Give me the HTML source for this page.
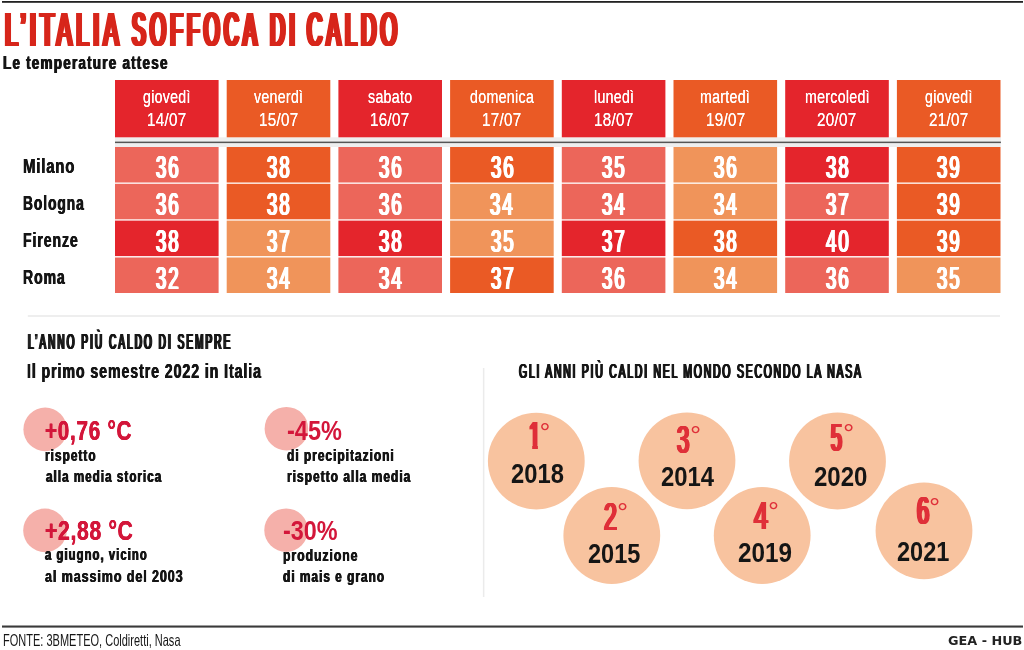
<!DOCTYPE html>
<html lang="it"><head><meta charset="utf-8"><title>L’Italia soffoca di caldo</title>
<style>
html,body{margin:0;padding:0;background:#fff;}
body{position:relative;width:1024px;height:650px;overflow:hidden;font-family:"Liberation Sans",sans-serif;}
svg{position:absolute;left:0;top:0;display:block;}
.t{position:absolute;white-space:pre;line-height:1;font-weight:bold;transform-origin:0 0;font-family:"Liberation Sans",sans-serif;}
</style></head><body>
<svg width="1024" height="650" viewBox="0 0 1024 650">
<rect width="1024" height="650" fill="#ffffff"/>
<rect x="2.00" y="1.00" width="1021.00" height="1.80" fill="#222"/>
<rect x="2.00" y="625.50" width="1021.00" height="2.10" fill="#3a3a3a"/>
<rect x="115.00" y="137.30" width="885.90" height="9.70" fill="#eeeeee"/>
<rect x="115.00" y="141.60" width="885.90" height="1.50" fill="#555"/>
<rect x="115.00" y="80.00" width="103.60" height="57.30" fill="#e4252c"/>
<rect x="115.00" y="147.00" width="103.60" height="35.50" fill="#ec665a"/>
<rect x="115.00" y="183.80" width="103.60" height="35.50" fill="#ec665a"/>
<rect x="115.00" y="220.60" width="103.60" height="35.50" fill="#e4252c"/>
<rect x="115.00" y="257.50" width="103.60" height="35.50" fill="#ec665a"/>
<rect x="226.70" y="80.00" width="103.60" height="57.30" fill="#ea5a25"/>
<rect x="226.70" y="147.00" width="103.60" height="35.50" fill="#ea5a25"/>
<rect x="226.70" y="183.80" width="103.60" height="35.50" fill="#ea5a25"/>
<rect x="226.70" y="220.60" width="103.60" height="35.50" fill="#f0945a"/>
<rect x="226.70" y="257.50" width="103.60" height="35.50" fill="#f0945a"/>
<rect x="338.40" y="80.00" width="103.60" height="57.30" fill="#e4252c"/>
<rect x="338.40" y="147.00" width="103.60" height="35.50" fill="#ec665a"/>
<rect x="338.40" y="183.80" width="103.60" height="35.50" fill="#ec665a"/>
<rect x="338.40" y="220.60" width="103.60" height="35.50" fill="#e4252c"/>
<rect x="338.40" y="257.50" width="103.60" height="35.50" fill="#ec665a"/>
<rect x="450.10" y="80.00" width="103.60" height="57.30" fill="#ea5a25"/>
<rect x="450.10" y="147.00" width="103.60" height="35.50" fill="#ea5a25"/>
<rect x="450.10" y="183.80" width="103.60" height="35.50" fill="#f0945a"/>
<rect x="450.10" y="220.60" width="103.60" height="35.50" fill="#f0945a"/>
<rect x="450.10" y="257.50" width="103.60" height="35.50" fill="#ea5a25"/>
<rect x="561.80" y="80.00" width="103.60" height="57.30" fill="#e4252c"/>
<rect x="561.80" y="147.00" width="103.60" height="35.50" fill="#ec665a"/>
<rect x="561.80" y="183.80" width="103.60" height="35.50" fill="#ec665a"/>
<rect x="561.80" y="220.60" width="103.60" height="35.50" fill="#e4252c"/>
<rect x="561.80" y="257.50" width="103.60" height="35.50" fill="#ec665a"/>
<rect x="673.50" y="80.00" width="103.60" height="57.30" fill="#ea5a25"/>
<rect x="673.50" y="147.00" width="103.60" height="35.50" fill="#f0945a"/>
<rect x="673.50" y="183.80" width="103.60" height="35.50" fill="#f0945a"/>
<rect x="673.50" y="220.60" width="103.60" height="35.50" fill="#ea5a25"/>
<rect x="673.50" y="257.50" width="103.60" height="35.50" fill="#f0945a"/>
<rect x="785.20" y="80.00" width="103.60" height="57.30" fill="#e4252c"/>
<rect x="785.20" y="147.00" width="103.60" height="35.50" fill="#e4252c"/>
<rect x="785.20" y="183.80" width="103.60" height="35.50" fill="#ec665a"/>
<rect x="785.20" y="220.60" width="103.60" height="35.50" fill="#e4252c"/>
<rect x="785.20" y="257.50" width="103.60" height="35.50" fill="#ec665a"/>
<rect x="896.90" y="80.00" width="103.60" height="57.30" fill="#ea5a25"/>
<rect x="896.90" y="147.00" width="103.60" height="35.50" fill="#ea5a25"/>
<rect x="896.90" y="183.80" width="103.60" height="35.50" fill="#ea5a25"/>
<rect x="896.90" y="220.60" width="103.60" height="35.50" fill="#ea5a25"/>
<rect x="896.90" y="257.50" width="103.60" height="35.50" fill="#f0945a"/>
<rect x="27.80" y="315.00" width="972.20" height="2.00" fill="#eeeeee"/>
<rect x="482.90" y="368.00" width="1.50" height="229.00" fill="#ebebeb"/>
<circle cx="45.20" cy="429.40" r="21.80" fill="#f5b0aa"/>
<circle cx="45.00" cy="530.40" r="21.80" fill="#f5b0aa"/>
<circle cx="286.40" cy="428.70" r="21.80" fill="#f5b0aa"/>
<circle cx="286.10" cy="530.20" r="21.80" fill="#f5b0aa"/>
<circle cx="536.30" cy="461.10" r="48.40" fill="#f8c39f"/>
<circle cx="611.80" cy="535.50" r="48.40" fill="#f8c39f"/>
<circle cx="687.00" cy="460.80" r="48.40" fill="#f8c39f"/>
<circle cx="762.20" cy="535.50" r="48.40" fill="#f8c39f"/>
<circle cx="837.50" cy="461.00" r="48.40" fill="#f8c39f"/>
<circle cx="924.00" cy="530.80" r="48.40" fill="#f8c39f"/>
</svg>
<span class="t" style="left:5.43px;top:5.00px;font-size:48.40px;transform:scaleX(0.4748);color:#d7261b;font-weight:normal;letter-spacing:8.61px;text-shadow:1.35px 0 0 #d7261b,-1.35px 0 0 #d7261b,2.70px 0 0 #d7261b,-2.70px 0 0 #d7261b,4.05px 0 0 #d7261b,-4.05px 0 0 #d7261b;">L’ITALIA</span>
<span class="t" style="left:132.04px;top:5.00px;font-size:48.40px;transform:scaleX(0.4224);color:#d7261b;font-weight:normal;letter-spacing:10.23px;text-shadow:1.21px 0 0 #d7261b,-1.21px 0 0 #d7261b,2.41px 0 0 #d7261b,-2.41px 0 0 #d7261b,3.62px 0 0 #d7261b,-3.62px 0 0 #d7261b,4.83px 0 0 #d7261b,-4.83px 0 0 #d7261b;">SOFFOCA</span>
<span class="t" style="left:269.52px;top:5.00px;font-size:48.40px;transform:scaleX(0.4287);color:#d7261b;font-weight:normal;letter-spacing:10.01px;text-shadow:1.18px 0 0 #d7261b,-1.18px 0 0 #d7261b,2.36px 0 0 #d7261b,-2.36px 0 0 #d7261b,3.54px 0 0 #d7261b,-3.54px 0 0 #d7261b,4.73px 0 0 #d7261b,-4.73px 0 0 #d7261b;">DI</span>
<span class="t" style="left:306.87px;top:5.00px;font-size:48.40px;transform:scaleX(0.4375);color:#d7261b;font-weight:normal;letter-spacing:9.72px;text-shadow:1.15px 0 0 #d7261b,-1.15px 0 0 #d7261b,2.29px 0 0 #d7261b,-2.29px 0 0 #d7261b,3.44px 0 0 #d7261b,-3.44px 0 0 #d7261b,4.58px 0 0 #d7261b,-4.58px 0 0 #d7261b;">CALDO</span>
<span class="t" style="left:2.70px;top:54.00px;font-size:18.90px;transform:scaleX(0.7153);color:#151515;letter-spacing:1.68px;text-shadow:0.67px 0 0 #151515,-0.67px 0 0 #151515;">Le temperature attese</span>
<span class="t" style="left:143.29px;top:88.00px;font-size:18.17px;transform:scaleX(0.7779);color:#fff;font-weight:normal;letter-spacing:0.39px;text-shadow:0.06px 0 0 #fff;">giovedì</span>
<span class="t" style="left:147.04px;top:111.00px;font-size:18.17px;transform:scaleX(0.8352);color:#fff;font-weight:normal;letter-spacing:0.36px;text-shadow:0.06px 0 0 #fff;">14/07</span>
<span class="t" style="left:155.55px;top:152.00px;font-size:31.10px;transform:scaleX(0.5946);color:#fff;font-weight:normal;letter-spacing:3.36px;text-shadow:0.74px 0 0 #fff,-0.74px 0 0 #fff,1.48px 0 0 #fff,-1.48px 0 0 #fff;">36</span>
<span class="t" style="left:155.55px;top:189.00px;font-size:31.10px;transform:scaleX(0.5946);color:#fff;font-weight:normal;letter-spacing:3.36px;text-shadow:0.74px 0 0 #fff,-0.74px 0 0 #fff,1.48px 0 0 #fff,-1.48px 0 0 #fff;">36</span>
<span class="t" style="left:155.55px;top:226.00px;font-size:31.10px;transform:scaleX(0.5946);color:#fff;font-weight:normal;letter-spacing:3.36px;text-shadow:0.74px 0 0 #fff,-0.74px 0 0 #fff,1.48px 0 0 #fff,-1.48px 0 0 #fff;">38</span>
<span class="t" style="left:155.65px;top:263.00px;font-size:31.10px;transform:scaleX(0.5934);color:#fff;font-weight:normal;letter-spacing:3.37px;text-shadow:0.74px 0 0 #fff,-0.74px 0 0 #fff,1.48px 0 0 #fff,-1.48px 0 0 #fff;">32</span>
<span class="t" style="left:254.41px;top:88.00px;font-size:18.17px;transform:scaleX(0.7795);color:#fff;font-weight:normal;letter-spacing:0.38px;text-shadow:0.06px 0 0 #fff;">venerdì</span>
<span class="t" style="left:258.74px;top:111.00px;font-size:18.17px;transform:scaleX(0.8352);color:#fff;font-weight:normal;letter-spacing:0.36px;text-shadow:0.06px 0 0 #fff;">15/07</span>
<span class="t" style="left:267.25px;top:152.00px;font-size:31.10px;transform:scaleX(0.5946);color:#fff;font-weight:normal;letter-spacing:3.36px;text-shadow:0.74px 0 0 #fff,-0.74px 0 0 #fff,1.48px 0 0 #fff,-1.48px 0 0 #fff;">38</span>
<span class="t" style="left:267.25px;top:189.00px;font-size:31.10px;transform:scaleX(0.5946);color:#fff;font-weight:normal;letter-spacing:3.36px;text-shadow:0.74px 0 0 #fff,-0.74px 0 0 #fff,1.48px 0 0 #fff,-1.48px 0 0 #fff;">38</span>
<span class="t" style="left:267.35px;top:226.00px;font-size:31.10px;transform:scaleX(0.5934);color:#fff;font-weight:normal;letter-spacing:3.37px;text-shadow:0.74px 0 0 #fff,-0.74px 0 0 #fff,1.48px 0 0 #fff,-1.48px 0 0 #fff;">37</span>
<span class="t" style="left:267.06px;top:263.00px;font-size:31.10px;transform:scaleX(0.5971);color:#fff;font-weight:normal;letter-spacing:3.34px;text-shadow:0.73px 0 0 #fff,-0.73px 0 0 #fff,1.47px 0 0 #fff,-1.47px 0 0 #fff;">34</span>
<span class="t" style="left:368.22px;top:88.00px;font-size:18.17px;transform:scaleX(0.7811);color:#fff;font-weight:normal;letter-spacing:0.38px;text-shadow:0.06px 0 0 #fff;">sabato</span>
<span class="t" style="left:370.44px;top:111.00px;font-size:18.17px;transform:scaleX(0.8352);color:#fff;font-weight:normal;letter-spacing:0.36px;text-shadow:0.06px 0 0 #fff;">16/07</span>
<span class="t" style="left:378.95px;top:152.00px;font-size:31.10px;transform:scaleX(0.5946);color:#fff;font-weight:normal;letter-spacing:3.36px;text-shadow:0.74px 0 0 #fff,-0.74px 0 0 #fff,1.48px 0 0 #fff,-1.48px 0 0 #fff;">36</span>
<span class="t" style="left:378.95px;top:189.00px;font-size:31.10px;transform:scaleX(0.5946);color:#fff;font-weight:normal;letter-spacing:3.36px;text-shadow:0.74px 0 0 #fff,-0.74px 0 0 #fff,1.48px 0 0 #fff,-1.48px 0 0 #fff;">36</span>
<span class="t" style="left:378.95px;top:226.00px;font-size:31.10px;transform:scaleX(0.5946);color:#fff;font-weight:normal;letter-spacing:3.36px;text-shadow:0.74px 0 0 #fff,-0.74px 0 0 #fff,1.48px 0 0 #fff,-1.48px 0 0 #fff;">38</span>
<span class="t" style="left:378.76px;top:263.00px;font-size:31.10px;transform:scaleX(0.5971);color:#fff;font-weight:normal;letter-spacing:3.34px;text-shadow:0.73px 0 0 #fff,-0.73px 0 0 #fff,1.47px 0 0 #fff,-1.47px 0 0 #fff;">34</span>
<span class="t" style="left:469.68px;top:88.00px;font-size:18.17px;transform:scaleX(0.7842);color:#fff;font-weight:normal;letter-spacing:0.38px;text-shadow:0.06px 0 0 #fff;">domenica</span>
<span class="t" style="left:482.14px;top:111.00px;font-size:18.17px;transform:scaleX(0.8352);color:#fff;font-weight:normal;letter-spacing:0.36px;text-shadow:0.06px 0 0 #fff;">17/07</span>
<span class="t" style="left:490.65px;top:152.00px;font-size:31.10px;transform:scaleX(0.5946);color:#fff;font-weight:normal;letter-spacing:3.36px;text-shadow:0.74px 0 0 #fff,-0.74px 0 0 #fff,1.48px 0 0 #fff,-1.48px 0 0 #fff;">36</span>
<span class="t" style="left:490.46px;top:189.00px;font-size:31.10px;transform:scaleX(0.5971);color:#fff;font-weight:normal;letter-spacing:3.34px;text-shadow:0.73px 0 0 #fff,-0.73px 0 0 #fff,1.47px 0 0 #fff,-1.47px 0 0 #fff;">34</span>
<span class="t" style="left:490.65px;top:226.00px;font-size:31.10px;transform:scaleX(0.5946);color:#fff;font-weight:normal;letter-spacing:3.36px;text-shadow:0.74px 0 0 #fff,-0.74px 0 0 #fff,1.48px 0 0 #fff,-1.48px 0 0 #fff;">35</span>
<span class="t" style="left:490.75px;top:263.00px;font-size:31.10px;transform:scaleX(0.5934);color:#fff;font-weight:normal;letter-spacing:3.37px;text-shadow:0.74px 0 0 #fff,-0.74px 0 0 #fff,1.48px 0 0 #fff,-1.48px 0 0 #fff;">37</span>
<span class="t" style="left:593.62px;top:88.00px;font-size:18.17px;transform:scaleX(0.7768);color:#fff;font-weight:normal;letter-spacing:0.39px;text-shadow:0.06px 0 0 #fff;">lunedì</span>
<span class="t" style="left:593.84px;top:111.00px;font-size:18.17px;transform:scaleX(0.8352);color:#fff;font-weight:normal;letter-spacing:0.36px;text-shadow:0.06px 0 0 #fff;">18/07</span>
<span class="t" style="left:602.35px;top:152.00px;font-size:31.10px;transform:scaleX(0.5946);color:#fff;font-weight:normal;letter-spacing:3.36px;text-shadow:0.74px 0 0 #fff,-0.74px 0 0 #fff,1.48px 0 0 #fff,-1.48px 0 0 #fff;">35</span>
<span class="t" style="left:602.16px;top:189.00px;font-size:31.10px;transform:scaleX(0.5971);color:#fff;font-weight:normal;letter-spacing:3.34px;text-shadow:0.73px 0 0 #fff,-0.73px 0 0 #fff,1.47px 0 0 #fff,-1.47px 0 0 #fff;">34</span>
<span class="t" style="left:602.45px;top:226.00px;font-size:31.10px;transform:scaleX(0.5934);color:#fff;font-weight:normal;letter-spacing:3.37px;text-shadow:0.74px 0 0 #fff,-0.74px 0 0 #fff,1.48px 0 0 #fff,-1.48px 0 0 #fff;">37</span>
<span class="t" style="left:602.35px;top:263.00px;font-size:31.10px;transform:scaleX(0.5946);color:#fff;font-weight:normal;letter-spacing:3.36px;text-shadow:0.74px 0 0 #fff,-0.74px 0 0 #fff,1.48px 0 0 #fff,-1.48px 0 0 #fff;">36</span>
<span class="t" style="left:700.38px;top:88.00px;font-size:18.17px;transform:scaleX(0.7795);color:#fff;font-weight:normal;letter-spacing:0.38px;text-shadow:0.06px 0 0 #fff;">martedì</span>
<span class="t" style="left:705.54px;top:111.00px;font-size:18.17px;transform:scaleX(0.8352);color:#fff;font-weight:normal;letter-spacing:0.36px;text-shadow:0.06px 0 0 #fff;">19/07</span>
<span class="t" style="left:714.05px;top:152.00px;font-size:31.10px;transform:scaleX(0.5946);color:#fff;font-weight:normal;letter-spacing:3.36px;text-shadow:0.74px 0 0 #fff,-0.74px 0 0 #fff,1.48px 0 0 #fff,-1.48px 0 0 #fff;">36</span>
<span class="t" style="left:713.86px;top:189.00px;font-size:31.10px;transform:scaleX(0.5971);color:#fff;font-weight:normal;letter-spacing:3.34px;text-shadow:0.73px 0 0 #fff,-0.73px 0 0 #fff,1.47px 0 0 #fff,-1.47px 0 0 #fff;">34</span>
<span class="t" style="left:714.05px;top:226.00px;font-size:31.10px;transform:scaleX(0.5946);color:#fff;font-weight:normal;letter-spacing:3.36px;text-shadow:0.74px 0 0 #fff,-0.74px 0 0 #fff,1.48px 0 0 #fff,-1.48px 0 0 #fff;">38</span>
<span class="t" style="left:713.86px;top:263.00px;font-size:31.10px;transform:scaleX(0.5971);color:#fff;font-weight:normal;letter-spacing:3.34px;text-shadow:0.73px 0 0 #fff,-0.73px 0 0 #fff,1.47px 0 0 #fff,-1.47px 0 0 #fff;">34</span>
<span class="t" style="left:804.68px;top:88.00px;font-size:18.17px;transform:scaleX(0.7801);color:#fff;font-weight:normal;letter-spacing:0.38px;text-shadow:0.06px 0 0 #fff;">mercoledì</span>
<span class="t" style="left:817.42px;top:111.00px;font-size:18.17px;transform:scaleX(0.8356);color:#fff;font-weight:normal;letter-spacing:0.36px;text-shadow:0.06px 0 0 #fff;">20/07</span>
<span class="t" style="left:825.75px;top:152.00px;font-size:31.10px;transform:scaleX(0.5946);color:#fff;font-weight:normal;letter-spacing:3.36px;text-shadow:0.74px 0 0 #fff,-0.74px 0 0 #fff,1.48px 0 0 #fff,-1.48px 0 0 #fff;">38</span>
<span class="t" style="left:825.85px;top:189.00px;font-size:31.10px;transform:scaleX(0.5934);color:#fff;font-weight:normal;letter-spacing:3.37px;text-shadow:0.74px 0 0 #fff,-0.74px 0 0 #fff,1.48px 0 0 #fff,-1.48px 0 0 #fff;">37</span>
<span class="t" style="left:825.77px;top:226.00px;font-size:31.10px;transform:scaleX(0.5983);color:#fff;font-weight:normal;letter-spacing:3.32px;text-shadow:0.73px 0 0 #fff,-0.73px 0 0 #fff,1.46px 0 0 #fff,-1.46px 0 0 #fff;">40</span>
<span class="t" style="left:825.75px;top:263.00px;font-size:31.10px;transform:scaleX(0.5946);color:#fff;font-weight:normal;letter-spacing:3.36px;text-shadow:0.74px 0 0 #fff,-0.74px 0 0 #fff,1.48px 0 0 #fff,-1.48px 0 0 #fff;">36</span>
<span class="t" style="left:925.19px;top:88.00px;font-size:18.17px;transform:scaleX(0.7779);color:#fff;font-weight:normal;letter-spacing:0.39px;text-shadow:0.06px 0 0 #fff;">giovedì</span>
<span class="t" style="left:929.12px;top:111.00px;font-size:18.17px;transform:scaleX(0.8356);color:#fff;font-weight:normal;letter-spacing:0.36px;text-shadow:0.06px 0 0 #fff;">21/07</span>
<span class="t" style="left:937.45px;top:152.00px;font-size:31.10px;transform:scaleX(0.5946);color:#fff;font-weight:normal;letter-spacing:3.36px;text-shadow:0.74px 0 0 #fff,-0.74px 0 0 #fff,1.48px 0 0 #fff,-1.48px 0 0 #fff;">39</span>
<span class="t" style="left:937.45px;top:189.00px;font-size:31.10px;transform:scaleX(0.5946);color:#fff;font-weight:normal;letter-spacing:3.36px;text-shadow:0.74px 0 0 #fff,-0.74px 0 0 #fff,1.48px 0 0 #fff,-1.48px 0 0 #fff;">39</span>
<span class="t" style="left:937.45px;top:226.00px;font-size:31.10px;transform:scaleX(0.5946);color:#fff;font-weight:normal;letter-spacing:3.36px;text-shadow:0.74px 0 0 #fff,-0.74px 0 0 #fff,1.48px 0 0 #fff,-1.48px 0 0 #fff;">39</span>
<span class="t" style="left:937.45px;top:263.00px;font-size:31.10px;transform:scaleX(0.5946);color:#fff;font-weight:normal;letter-spacing:3.36px;text-shadow:0.74px 0 0 #fff,-0.74px 0 0 #fff,1.48px 0 0 #fff,-1.48px 0 0 #fff;">35</span>
<span class="t" style="left:23.13px;top:156.00px;font-size:20.78px;transform:scaleX(0.7238);color:#151515;letter-spacing:1.07px;text-shadow:0.37px 0 0 #151515,-0.37px 0 0 #151515;">Milano</span>
<span class="t" style="left:23.31px;top:193.00px;font-size:20.78px;transform:scaleX(0.6623);color:#151515;letter-spacing:1.45px;text-shadow:0.55px 0 0 #151515,-0.55px 0 0 #151515;">Bologna</span>
<span class="t" style="left:23.27px;top:230.00px;font-size:20.78px;transform:scaleX(0.6787);color:#151515;letter-spacing:1.34px;text-shadow:0.50px 0 0 #151515,-0.50px 0 0 #151515;">Firenze</span>
<span class="t" style="left:23.27px;top:267.00px;font-size:20.78px;transform:scaleX(0.6759);color:#151515;letter-spacing:1.36px;text-shadow:0.50px 0 0 #151515,-0.50px 0 0 #151515;">Roma</span>
<span class="t" style="left:27.71px;top:330.00px;font-size:22.82px;transform:scaleX(0.4371);color:#151515;font-weight:normal;letter-spacing:4.76px;text-shadow:1.05px 0 0 #151515,-1.05px 0 0 #151515,2.11px 0 0 #151515,-2.11px 0 0 #151515;">L’ANNO PIÙ CALDO DI SEMPRE</span>
<span class="t" style="left:27.30px;top:361.00px;font-size:20.20px;transform:scaleX(0.7043);color:#151515;letter-spacing:1.27px;text-shadow:0.46px 0 0 #151515,-0.46px 0 0 #151515;">Il primo semestre 2022 in Italia</span>
<span class="t" style="left:519.09px;top:361.00px;font-size:20.71px;transform:scaleX(0.5071);color:#151515;font-weight:normal;letter-spacing:3.42px;text-shadow:0.74px 0 0 #151515,-0.74px 0 0 #151515,1.47px 0 0 #151515,-1.47px 0 0 #151515;">GLI ANNI PIÙ CALDI NEL MONDO SECONDO LA NASA</span>
<span class="t" style="left:45.41px;top:417.00px;font-size:27.25px;transform:scaleX(0.7587);color:#d3163a;letter-spacing:0.97px;text-shadow:0.33px 0 0 #d3163a,-0.33px 0 0 #d3163a;">+0,76 °C</span>
<span class="t" style="left:45.30px;top:448.00px;font-size:16.72px;transform:scaleX(0.7131);color:#151515;letter-spacing:1.38px;text-shadow:0.52px 0 0 #151515,-0.52px 0 0 #151515;">rispetto</span>
<span class="t" style="left:45.72px;top:469.00px;font-size:16.72px;transform:scaleX(0.6976);color:#151515;letter-spacing:1.47px;text-shadow:0.56px 0 0 #151515,-0.56px 0 0 #151515;">alla media storica</span>
<span class="t" style="left:45.15px;top:517.00px;font-size:27.25px;transform:scaleX(0.7766);color:#d3163a;letter-spacing:0.86px;text-shadow:0.28px 0 0 #d3163a,-0.28px 0 0 #d3163a;">+2,88 °C</span>
<span class="t" style="left:45.37px;top:547.00px;font-size:16.72px;transform:scaleX(0.6718);color:#151515;letter-spacing:1.62px;text-shadow:0.63px 0 0 #151515,-0.63px 0 0 #151515;">a giugno, vicino</span>
<span class="t" style="left:45.22px;top:569.00px;font-size:16.72px;transform:scaleX(0.7531);color:#151515;letter-spacing:1.18px;text-shadow:0.43px 0 0 #151515,-0.43px 0 0 #151515;">al massimo del 2003</span>
<span class="t" style="left:286.52px;top:418.00px;font-size:27.03px;transform:scaleX(0.8698);color:#d3163a;">-45%</span>
<span class="t" style="left:287.09px;top:448.00px;font-size:16.72px;transform:scaleX(0.7172);color:#151515;letter-spacing:1.36px;text-shadow:0.51px 0 0 #151515,-0.51px 0 0 #151515;">di precipitazioni</span>
<span class="t" style="left:286.78px;top:469.00px;font-size:16.72px;transform:scaleX(0.7229);color:#151515;letter-spacing:1.33px;text-shadow:0.50px 0 0 #151515,-0.50px 0 0 #151515;">rispetto alla media</span>
<span class="t" style="left:282.82px;top:518.00px;font-size:27.03px;transform:scaleX(0.8665);color:#d3163a;">-30%</span>
<span class="t" style="left:282.85px;top:548.00px;font-size:16.72px;transform:scaleX(0.7346);color:#151515;letter-spacing:1.27px;text-shadow:0.47px 0 0 #151515,-0.47px 0 0 #151515;">produzione</span>
<span class="t" style="left:283.20px;top:569.00px;font-size:16.72px;transform:scaleX(0.7119);color:#151515;letter-spacing:1.39px;text-shadow:0.53px 0 0 #151515,-0.53px 0 0 #151515;">di mais e grano</span>
<span class="t" style="left:528.69px;top:417.00px;font-size:38.52px;transform:scaleX(0.5307);color:#df3039;font-weight:normal;letter-spacing:6.25px;text-shadow:0.97px 0 0 #df3039,-0.97px 0 0 #df3039,1.93px 0 0 #df3039,-1.93px 0 0 #df3039,2.90px 0 0 #df3039,-2.90px 0 0 #df3039;clip-path:polygon(-50px -10px,100px -10px,100px 28.52px,16.78px 28.52px,16.78px 100px,5.99px 100px,5.99px 28.52px,-50px 28.52px);">1</span>
<span class="t" style="left:539.41px;top:419.00px;font-size:27.18px;transform:scaleX(1.0000);color:#df3039;font-weight:normal;">°</span>
<span class="t" style="left:510.61px;top:460.00px;font-size:27.47px;transform:scaleX(0.8652);color:#151515;">2018</span>
<span class="t" style="left:603.67px;top:498.00px;font-size:38.52px;transform:scaleX(0.6024);color:#df3039;font-weight:normal;letter-spacing:4.76px;text-shadow:0.73px 0 0 #df3039,-0.73px 0 0 #df3039,1.45px 0 0 #df3039,-1.45px 0 0 #df3039,2.18px 0 0 #df3039,-2.18px 0 0 #df3039;">2</span>
<span class="t" style="left:616.57px;top:499.00px;font-size:27.18px;transform:scaleX(1.0260);color:#df3039;font-weight:normal;">°</span>
<span class="t" style="left:588.41px;top:541.00px;font-size:27.03px;transform:scaleX(0.8724);color:#151515;">2015</span>
<span class="t" style="left:677.26px;top:420.00px;font-size:39.10px;transform:scaleX(0.5666);color:#df3039;font-weight:normal;letter-spacing:5.23px;text-shadow:0.80px 0 0 #df3039,-0.80px 0 0 #df3039,1.60px 0 0 #df3039,-1.60px 0 0 #df3039,2.40px 0 0 #df3039,-2.40px 0 0 #df3039;">3</span>
<span class="t" style="left:690.27px;top:422.00px;font-size:27.18px;transform:scaleX(1.0260);color:#df3039;font-weight:normal;">°</span>
<span class="t" style="left:661.00px;top:464.00px;font-size:26.89px;transform:scaleX(0.8891);color:#151515;">2014</span>
<span class="t" style="left:754.11px;top:497.00px;font-size:38.23px;transform:scaleX(0.6604);color:#df3039;font-weight:normal;letter-spacing:4.05px;text-shadow:0.92px 0 0 #df3039,-0.92px 0 0 #df3039,1.85px 0 0 #df3039,-1.85px 0 0 #df3039;">4</span>
<span class="t" style="left:767.99px;top:498.00px;font-size:27.18px;transform:scaleX(1.0130);color:#df3039;font-weight:normal;">°</span>
<span class="t" style="left:738.39px;top:540.00px;font-size:26.89px;transform:scaleX(0.9029);color:#151515;">2019</span>
<span class="t" style="left:830.68px;top:419.00px;font-size:38.95px;transform:scaleX(0.5027);color:#df3039;font-weight:normal;letter-spacing:6.36px;text-shadow:0.98px 0 0 #df3039,-0.98px 0 0 #df3039,1.96px 0 0 #df3039,-1.96px 0 0 #df3039,2.94px 0 0 #df3039,-2.94px 0 0 #df3039;">5</span>
<span class="t" style="left:842.95px;top:420.00px;font-size:27.18px;transform:scaleX(1.0390);color:#df3039;font-weight:normal;">°</span>
<span class="t" style="left:814.30px;top:463.00px;font-size:27.33px;transform:scaleX(0.8800);color:#151515;">2020</span>
<span class="t" style="left:916.70px;top:492.00px;font-size:38.23px;transform:scaleX(0.5713);color:#df3039;font-weight:normal;letter-spacing:5.24px;text-shadow:0.80px 0 0 #df3039,-0.80px 0 0 #df3039,1.61px 0 0 #df3039,-1.61px 0 0 #df3039,2.41px 0 0 #df3039,-2.41px 0 0 #df3039;">6</span>
<span class="t" style="left:929.47px;top:494.00px;font-size:27.18px;transform:scaleX(1.0260);color:#df3039;font-weight:normal;">°</span>
<span class="t" style="left:897.11px;top:539.00px;font-size:26.74px;transform:scaleX(0.8819);color:#151515;">2021</span>
<span class="t" style="left:2.83px;top:632.00px;font-size:16.28px;transform:scaleX(0.6772);color:#151515;font-weight:normal;">FONTE: 3BMETEO, Coldiretti, Nasa</span>
<span class="t" style="left:948.11px;top:635.00px;font-size:12.89px;transform:scaleX(0.9956);color:#222;font-family:&quot;DejaVu Sans&quot;,sans-serif;">GEA - HUB</span>
</body></html>
